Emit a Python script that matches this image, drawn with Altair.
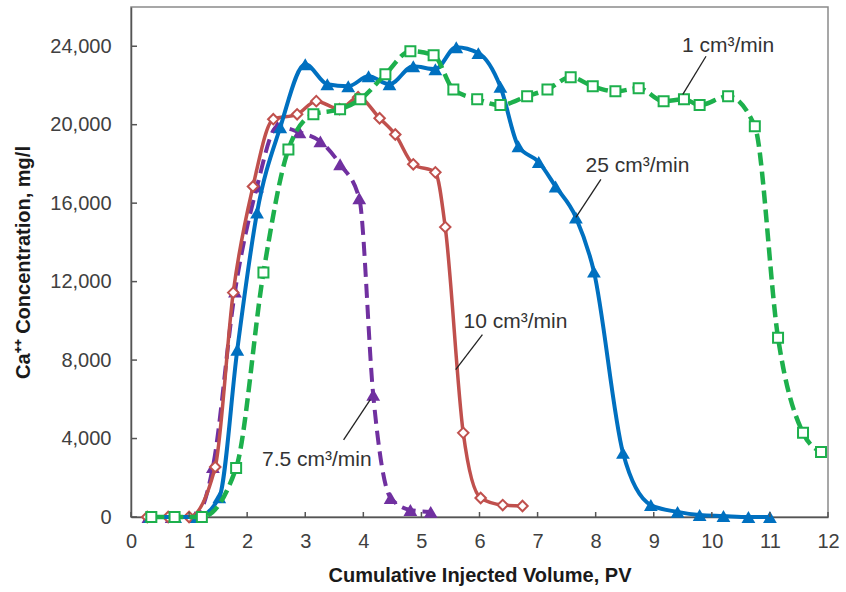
import altair as alt
import pandas as pd

# ---- data ----
x_1 = [0.35, 0.75, 1.22, 1.81, 2.28, 2.71, 3.14, 3.60, 3.95, 4.38, 4.81, 5.21, 5.55, 5.96, 6.36,
       6.82, 7.17, 7.57, 7.95, 8.34, 8.74, 9.17, 9.52, 9.79, 10.28, 10.74, 11.14, 11.57, 11.88]
y_1 = [0, 0, 0, 2500, 12460, 18740, 20530, 20790, 21300, 22570, 23750, 23540, 21800, 21300, 21000,
       21450, 21800, 22420, 21960, 21700, 21860, 21200, 21300, 21000, 21450, 19920, 9140, 4290, 3320]

x_25 = [0.33, 0.76, 1.14, 1.52, 1.83, 2.17, 2.57, 3.00, 3.38, 3.74, 4.09, 4.45, 4.86, 5.24, 5.60,
        5.98, 6.36, 6.67, 7.02, 7.31, 7.66, 7.97, 8.47, 8.95, 9.41, 9.79, 10.20, 10.63, 11.00]
y_25 = [0, 0, 0, 1000, 8530, 15520, 19870, 23080, 22060, 21960, 22470, 22060, 22980, 22830, 23950,
        23650, 21930, 18900, 18100, 16850, 15270, 12510, 3270, 610, 260, 100, 50, 0, 0]

x_10 = [0.28, 0.64, 1.00, 1.45, 1.76, 2.10, 2.45, 2.86, 3.19, 3.59, 3.91, 4.28, 4.55, 4.86, 5.24,
        5.41, 5.72, 6.02, 6.40, 6.74]
y_10 = [0, 0, 0, 2550, 11440, 16850, 20280, 20530, 21200, 20790, 21400, 20330, 19500, 17980, 17570,
        14780, 4290, 970, 610, 560]

x_75 = [0.30, 0.70, 1.10, 1.41, 1.79, 2.17, 2.52, 2.90, 3.26, 3.60, 3.93, 4.17, 4.47, 4.81, 5.16]
y_75 = [0, 0, 0, 2550, 11500, 16850, 19900, 19610, 19150, 17980, 16250, 6230, 970, 360, 260]

x_ticks = list(range(0, 13))
y_ticks = [0, 4000, 8000, 12000, 16000, 20000, 24000]

labels = ["1 cm³/min", "25 cm³/min", "10 cm³/min", "7.5 cm³/min"]
label_x = [10.28, 8.72, 6.62, 3.20]
label_y = [24000, 17870, 9960, 2910]
lead_x1 = [9.90, 8.09, 6.05, 3.66]
lead_y1 = [23490, 17210, 9300, 3930]
lead_x2 = [9.50, 7.66, 5.59, 4.12]
lead_y2 = [21550, 15270, 7510, 5980]

FONT = "Liberation Sans"
W, H = 697, 510

xs = alt.Scale(domain=[0, 12], nice=False, zero=False)
ys = alt.Scale(domain=[0, 26000], nice=False)

xaxis = alt.Axis(title="Cumulative Injected Volume, PV", values=x_ticks, ticks=False,
                 grid=False, labelPadding=14, titlePadding=14, labelFontSize=20,
                 titleFontSize=20, titleFontWeight="bold", labelFont=FONT, titleFont=FONT,
                 labelColor="#404040", titleColor="#1a1a1a", domainColor="#555555",
                 domainWidth=1.5, format="d", labelFlush=False, labelOverlap=False)
yaxis = alt.Axis(title="Ca⁺⁺ Concentration, mg/l", values=y_ticks, ticks=False,
                 grid=False, labelPadding=20, titlePadding=16, labelFontSize=20,
                 titleFontSize=20, titleFontWeight="bold", labelFont=FONT, titleFont=FONT,
                 labelColor="#404040", titleColor="#1a1a1a", domainColor="#555555",
                 domainWidth=1.5, format=",d", labelFlush=False, labelOverlap=False)


def series(xv, yv, color, shape, filled, dash, width, size):
    df = pd.DataFrame({"x": xv, "y": yv})
    base = alt.Chart(df)
    line_kw = dict(color=color, strokeWidth=width, interpolate="monotone")
    if dash:
        line_kw["strokeDash"] = dash
    line = base.mark_line(**line_kw).encode(
        x=alt.X("x:Q", scale=xs, axis=xaxis), y=alt.Y("y:Q", scale=ys, axis=yaxis))
    if filled:
        pts = base.mark_point(shape=shape, filled=True, color=color, size=size, opacity=1)
    else:
        pts = base.mark_point(shape=shape, filled=True, fill="white", stroke=color,
                              strokeWidth=2, size=size, opacity=1)
    pts = pts.encode(x=alt.X("x:Q", scale=xs), y=alt.Y("y:Q", scale=ys))
    return line + pts


s75 = series(x_75, y_75, "#7030A0", "triangle-up", True, [14, 7], 4, 190)
s10 = series(x_10, y_10, "#C0504D", "diamond", False, None, 3.5, 110)
s25 = series(x_25, y_25, "#0070C0", "triangle-up", True, None, 4, 190)
s1 = series(x_1, y_1, "#1DB04C", "square", False, [13, 6], 4.5, 100)

ann = pd.DataFrame({"label": labels, "lx": label_x, "ly": label_y,
                    "x1": lead_x1, "y1": lead_y1, "x2": lead_x2, "y2": lead_y2})
leaders = alt.Chart(ann).mark_rule(color="#222222", strokeWidth=1.3).encode(
    x=alt.X("x1:Q", scale=xs), y=alt.Y("y1:Q", scale=ys), x2="x2:Q", y2="y2:Q")
texts = alt.Chart(ann).mark_text(font=FONT, fontSize=21, color="#333333",
                                 align="center", baseline="middle").encode(
    x=alt.X("lx:Q", scale=xs), y=alt.Y("ly:Q", scale=ys), text="label:N")

xt = alt.Chart(pd.DataFrame({"t": x_ticks})).mark_rule(color="#555555", strokeWidth=1.5).encode(
    x=alt.X("t:Q", scale=xs), y=alt.value(H - 5), y2=alt.value(H))
yt = alt.Chart(pd.DataFrame({"t": y_ticks})).mark_rule(color="#555555", strokeWidth=1.5).encode(
    y=alt.Y("t:Q", scale=ys), x=alt.value(0), x2=alt.value(6))

chart = alt.layer(s75, s10, s25, s1, leaders, texts, xt, yt).properties(
    width=W, height=H,
    autosize=alt.AutoSizeParams(type="none"),
    padding={"left": 131, "top": 7, "right": 18, "bottom": 75},
    background="white",
).configure_view(stroke="#8a8a8a", strokeWidth=1.5)

chart.save("out.html", embed_options={"renderer": "svg", "actions": False})
